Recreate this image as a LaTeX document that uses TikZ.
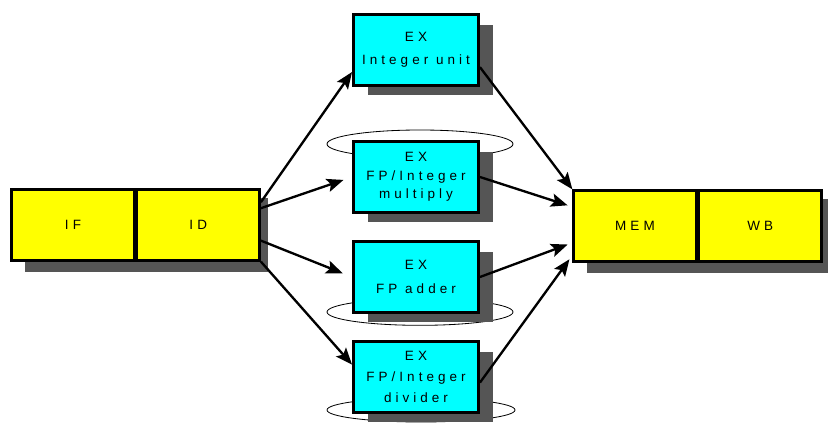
\documentclass[tikz,border=0pt]{standalone}
\usepackage{fontspec}
\newfontfamily\boxfont[LetterSpace=30]{Liberation Sans}
\usetikzlibrary{shadows,arrows.meta,positioning}
\definecolor{unitcyan}{RGB}{0,255,255}
\definecolor{stageyellow}{RGB}{255,255,0}
\definecolor{shadowgray}{RGB}{85,85,85}
\pgfdeclarelayer{background}
\pgfsetlayers{background,main}
\begin{document}
\begin{tikzpicture}[x=0.03cm, y=-0.03cm,
    stage/.style={draw, line width=2.2pt, fill=stageyellow, minimum width=3.68cm, minimum height=2.12cm,
        font=\boxfont\fontsize{11.5}{20}\selectfont, align=center, inner sep=1pt},
    exunit/.style={stage, fill=unitcyan, minimum width=3.76cm,
        drop shadow={shadow xshift=0.44cm, shadow yshift=-0.3cm, fill=shadowgray, opacity=1}},
    flow/.style={-{Stealth[length=0.5cm, width=0.4cm, inset=0.1cm]}, line width=2pt},
    loop/.style={line width=0.7pt}]
    \useasboundingbox (0,0) rectangle (828,423);
    % loops round the pipelined units
    \draw[loop] (420,144) ellipse [x radius=2.79cm, y radius=0.42cm];
    \draw[loop] (420,312) ellipse [x radius=2.79cm, y radius=0.4cm];
    \draw[loop] (421,410) ellipse [x radius=2.82cm, y radius=0.36cm];
    % stages
    \node[stage] (if) at (73,225) {IF};
    \node[stage, right=0pt of if] (id) {ID};
    \node[stage] (mem) at (635,226) {MEM};
    \node[stage, right=0pt of mem] (wb) {WB};
    \begin{pgfonlayer}{background}
        \fill[shadowgray] ([shift={(0.44cm,-0.3cm)}]if.north west) rectangle ([shift={(0.2cm,-0.3cm)}]id.south east);
        \fill[shadowgray] ([shift={(0.44cm,-0.3cm)}]mem.north west) rectangle ([shift={(0.2cm,-0.3cm)}]wb.south east);
    \end{pgfonlayer}
    \node[exunit] (ex1) at (416,50) {EX\\Integer unit};
    \node[exunit] (ex2) at (416,177) {EX\\[-4pt]FP/Integer\\[-4pt]multiply};
    \node[exunit] (ex3) at (416,277) {EX\\FP adder};
    \node[exunit] (ex4) at (416,377) {EX\\[-2pt]FP/Integer\\[-2pt]divider};
    % issue
    \draw[flow] (id.20) -- (ex1.199);
    \draw[flow, shorten >=0.27cm] (id.15) -- (ex2.west);
    \draw[flow, shorten >=0.3cm] (id.-14) -- (ex3.west);
    \draw[flow] (id.south east) -- (ex4.169);
    % write back
    \draw[flow] (ex1.-15) -- (mem.north west);
    \draw[flow, shorten >=0.15cm] (ex2.east) -- (mem.163);
    \draw[flow, shorten >=0.15cm] (ex3.east) -- (mem.195);
    \draw[flow, shorten >=0.15cm] (ex4.-5) -- (mem.205);
\end{tikzpicture}
\end{document}
